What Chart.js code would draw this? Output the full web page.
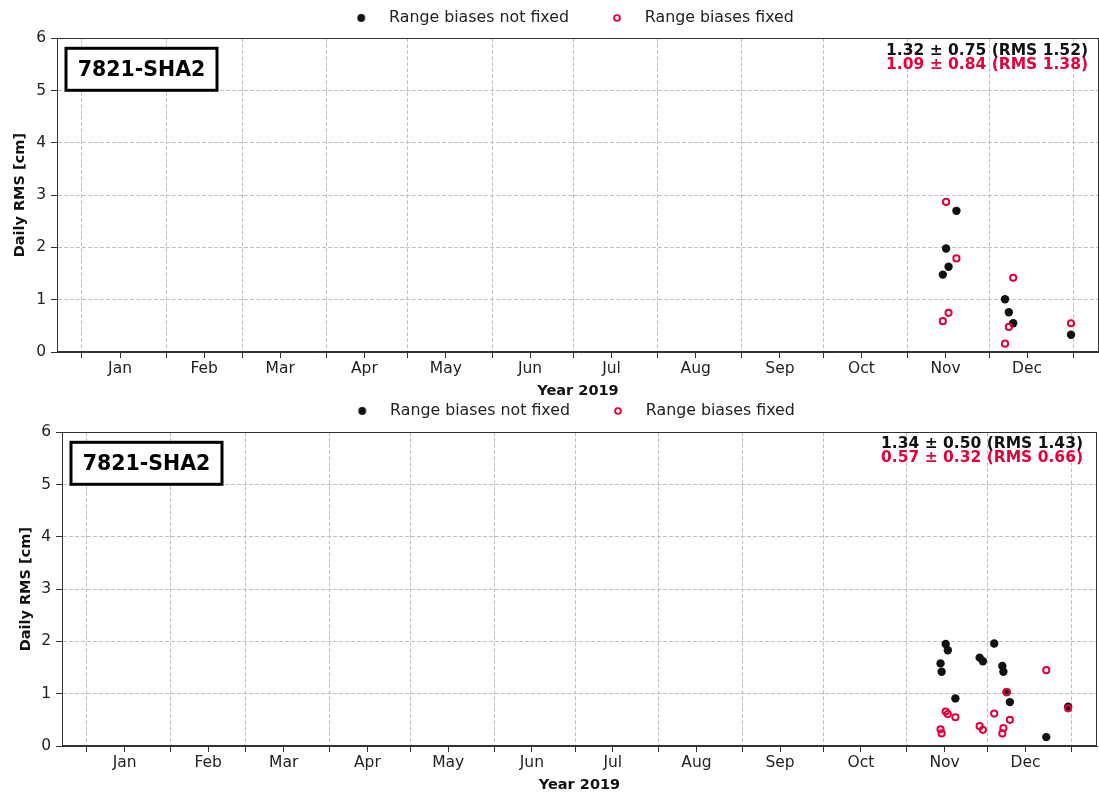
<!doctype html>
<html lang="en">
<head>
<meta charset="utf-8">
<title>7821-SHA2 Daily RMS</title>
<style>
  * { margin: 0; padding: 0; }
  body { width: 1099px; height: 794px; background: #fff; position: relative; overflow: hidden; }
  canvas { position: absolute; left: 0; }
  #chartTop { top: 0; }
  #chartBottom { top: 393px; }
</style>
</head>
<body>
<canvas id="chartTop" width="1099" height="400"></canvas>
<canvas id="chartBottom" width="1099" height="401"></canvas>
<script src="https://cdn.jsdelivr.net/npm/chart.js/dist/chart.umd.min.js"></script>
<script>
// x values are day of year 2019 (0 = Jan 1)
const monthNames = ['Jan', 'Feb', 'Mar', 'Apr', 'May', 'Jun', 'Jul', 'Aug', 'Sep', 'Oct', 'Nov', 'Dec'];
const monthStarts = [0, 31, 59, 90, 120, 151, 181, 212, 243, 273, 304, 334, 365];
const seriesNames = ['Range biases not fixed', 'Range biases fixed'];
const stationName = '7821-SHA2';

// upper panel
const topDays = [317, 318.2, 319.1, 322, 339.9, 341.3, 342.9, 364.2];
const topNotFixed = [1.48, 1.98, 1.63, 2.70, 1.01, 0.76, 0.55, 0.33];
const topFixed = [0.59, 2.87, 0.75, 1.79, 0.16, 0.48, 1.42, 0.55];
const topStats = ['1.32 \u00b1 0.75 (RMS 1.52)', '1.09 \u00b1 0.84 (RMS 1.38)'];

// lower panel
const bottomDays = [316.5, 316.9, 318.4, 319.2, 322, 331, 332.2, 336.4, 339.4, 339.8, 341, 342.2, 355.7, 363.8];
const bottomNotFixed = [1.58, 1.42, 1.95, 1.83, 0.91, 1.69, 1.62, 1.96, 1.53, 1.42, 1.03, 0.84, 0.17, 0.75];
const bottomFixed = [0.32, 0.24, 0.66, 0.61, 0.55, 0.38, 0.31, 0.62, 0.24, 0.34, 1.03, 0.50, 1.45, 0.72];
const bottomStats = ['1.34 \u00b1 0.50 (RMS 1.43)', '0.57 \u00b1 0.32 (RMS 0.66)'];

const BLACK = '#111111';
const RED = '#e4003a';
const GRID = '#c0c0c0';
const AXIS = '#333333';
const FONT = 'DejaVu Sans';

const monthMids = monthStarts.slice(0, 12).map(d => d + 14);

// legend markers: blank space on the left, dot 37px in
function makeMarker(filled) {
  const c = document.createElement('canvas');
  c.width = 57;
  c.height = 12;
  const g = c.getContext('2d');
  g.beginPath();
  if (filled) {
    g.arc(37, 6, 3.9, 0, Math.PI * 2);
    g.fillStyle = BLACK;
    g.fill();
  } else {
    g.arc(37, 6, 2.9, 0, Math.PI * 2);
    g.strokeStyle = RED;
    g.lineWidth = 1.9;
    g.stroke();
  }
  return c;
}
const legendMarkers = [makeMarker(true), makeMarker(false)];

const framePlugin = {
  id: 'frame',
  beforeLayout(chart) {
    const lg = chart.legend;
    if (lg && !lg._patched) {
      const fit = lg.fit;
      const extra = chart.options.plugins.frame.legendExtra;
      lg.fit = function () { fit.call(this); this.height += extra; };
      lg._patched = true;
    }
  },
  afterDraw(chart) {
    const o = chart.options.plugins.frame;
    const {ctx, chartArea: a} = chart;
    ctx.save();
    // axes box
    ctx.strokeStyle = AXIS;
    ctx.lineWidth = 1;
    ctx.strokeRect(Math.round(a.left) + 0.5, Math.round(a.top) + 0.5,
      Math.round(a.right - a.left) - 1, Math.round(a.bottom - a.top) - 1);

    // station label
    const bx = a.left + 9, by = a.top + 10;
    ctx.fillStyle = '#fff';
    ctx.fillRect(bx, by, 151, 42);
    ctx.lineWidth = 3;
    ctx.strokeStyle = '#000';
    ctx.strokeRect(bx, by, 151, 42);
    ctx.fillStyle = '#000';
    ctx.font = 'bold 20.5px "' + FONT + '"';
    ctx.textAlign = 'center';
    ctx.textBaseline = 'middle';
    ctx.fillText(stationName, bx + 75.5, by + 22);

    // statistics
    ctx.font = 'bold 15.5px "' + FONT + '"';
    ctx.textAlign = 'right';
    ctx.fillStyle = BLACK;
    ctx.fillText(o.stats[0], a.right - o.statsRight, a.top + o.statsTop);
    ctx.fillStyle = RED;
    ctx.fillText(o.stats[1], a.right - o.statsRight, a.top + o.statsTop + 14.5);
    ctx.restore();
  }
};

function buildChart(id, p) {
  const xTicks = monthStarts.concat(monthMids).filter(v => v >= -9.2 && v <= 374.5).sort((a, b) => a - b);
  return new Chart(document.getElementById(id), {
    type: 'scatter',
    data: {
      datasets: [
        {
          label: seriesNames[0],
          data: p.days.map((d, i) => ({x: d, y: p.notFixed[i]})),
          backgroundColor: BLACK,
          borderColor: BLACK,
          borderWidth: 0,
          pointRadius: 4.2,
          order: 2
        },
        {
          label: seriesNames[1],
          data: p.days.map((d, i) => ({x: d, y: p.fixed[i]})),
          backgroundColor: 'rgba(0,0,0,0)',
          borderColor: RED,
          borderWidth: 2,
          pointRadius: 3.1,
          order: 1
        }
      ]
    },
    options: {
      responsive: false,
      animation: false,
      devicePixelRatio: 1,
      layout: { autoPadding: false, padding: { left: p.padLeft, right: p.padRight, top: -1, bottom: 0 } },
      plugins: {
        tooltip: { enabled: false },
        legend: {
          position: 'top',
          labels: {
            usePointStyle: true,
            pointStyleWidth: 57,
            padding: 11,
            color: '#222',
            font: { family: FONT, size: 15.8 },
            sort: (a, b) => a.datasetIndex - b.datasetIndex,
            generateLabels(chart) {
              const items = Chart.defaults.plugins.legend.labels.generateLabels(chart);
              items.forEach(it => { it.pointStyle = legendMarkers[it.datasetIndex]; });
              return items;
            }
          }
        },
        frame: { stats: p.stats, statsRight: p.statsRight, statsTop: p.statsTop, legendExtra: p.legendExtra }
      },
      scales: {
        x: {
          type: 'linear',
          min: -9.2,
          max: 374.5,
          afterBuildTicks: s => { s.ticks = xTicks.map(v => ({value: v})); },
          afterFit: s => { s.height = p.xAxisH; },
          ticks: {
            autoSkip: false,
            maxRotation: 0,
            minRotation: 0,
            padding: 2,
            color: '#222',
            font: { family: FONT, size: 15.5 },
            callback: v => {
              const i = monthMids.indexOf(v);
              return i >= 0 ? monthNames[i] : '';
            }
          },
          grid: {
            color: c => (c.tick && monthStarts.includes(c.tick.value)) ? GRID : 'rgba(0,0,0,0)',
            tickColor: AXIS,
            tickLength: 6,
            lineWidth: 1
          },
          border: { color: AXIS, dash: [4, 2] },
          title: {
            display: true,
            text: 'Year 2019',
            color: '#111',
            font: { family: FONT, size: 14.5, weight: 'bold', lineHeight: 1 },
            padding: { top: 0, bottom: 2 }
          }
        },
        y: {
          min: 0,
          max: 6,
          afterFit: s => { s.width = p.yAxisW; },
          ticks: {
            stepSize: 1,
            padding: 5,
            color: '#222',
            font: { family: FONT, size: 15.5 }
          },
          grid: { color: GRID, tickColor: AXIS, tickLength: 6, lineWidth: 1 },
          border: { color: AXIS, dash: [4, 2] },
          title: {
            display: true,
            text: 'Daily RMS [cm]',
            color: '#111',
            font: { family: FONT, size: 14.5, weight: 'bold', lineHeight: 1 },
            padding: { top: p.yTitlePad, bottom: 0 }
          }
        }
      }
    },
    plugins: [framePlugin]
  });
}

buildChart('chartTop', {
  days: topDays, notFixed: topNotFixed, fixed: topFixed, stats: topStats,
  padLeft: 18, padRight: -1, yAxisW: 39, xAxisH: 48, legendExtra: 2.5,
  statsRight: 11, statsTop: 12.5, yTitlePad: -5
});
buildChart('chartBottom', {
  days: bottomDays, notFixed: bottomNotFixed, fixed: bottomFixed, stats: bottomStats,
  padLeft: 23, padRight: 2, yAxisW: 39, xAxisH: 48, legendExtra: 3.5,
  statsRight: 14, statsTop: 11.5, yTitlePad: -4
});
</script>
</body>
</html>
